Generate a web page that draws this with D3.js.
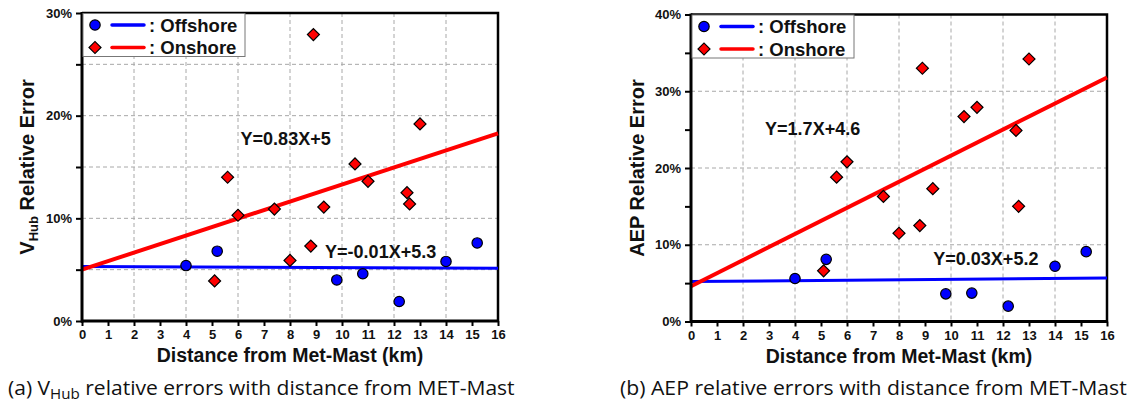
<!DOCTYPE html>
<html>
<head>
<meta charset="utf-8">
<script src="https://cdn.jsdelivr.net/npm/d3@7"></script>
<style>
  html, body { margin: 0; padding: 0; background: #fff; }
  svg { display: block; }
</style>
</head>
<body>
<svg id="chart" width="1138" height="403"></svg>
<script>
// ---------------- DATA ----------------
const offshoreDist = [4.0, 5.2, 9.8, 10.8, 12.2, 14.0, 15.2];
const onshoreDist  = [5.1, 5.6, 6.0, 7.4, 8.0, 8.8, 8.9, 9.3, 10.5, 11.0, 12.5, 12.6, 13.0];

const vhubOffshore = [5.4, 6.8, 4.0, 4.6, 1.9, 5.8, 7.6];
const vhubOnshore  = [3.9, 14.0, 10.3, 10.9, 5.9, 7.3, 27.9, 11.1, 15.3, 13.6, 12.5, 11.4, 19.2];

const aepOffshore  = [5.6, 8.1, 3.6, 3.7, 2.0, 7.2, 9.1];
const aepOnshore   = [6.6, 18.8, 20.8, 16.3, 11.5, 12.5, 33.0, 17.3, 26.7, 27.9, 24.9, 15.0, 34.2];

// regression fits [slope, intercept]
const vhubOffshoreFit = [-0.01, 5.3];
const vhubOnshoreFit  = [0.83, 5];
const aepOffshoreFit  = [0.03, 5.2];
const aepOnshoreFit   = [1.7, 4.6];

const xTickValues = [0,1,2,3,4,5,6,7,8,9,10,11,12,13,14,15,16];
const xGridValues = [2,4,6,8,10,12,14];
const vhubYTicks = [0,5,10,15,20,25,30];
const vhubYLabels = [0,10,20,30];
const vhubYGrid = [5,10,15,20,25];
const aepYTicks = [0,5,10,15,20,25,30,35,40];
const aepYLabels = [0,10,20,30,40];
const aepYGrid = [10,20,30];

const legendLabels = [": Offshore", ": Onshore"];
const xTitle = "Distance from Met-Mast (km)";

// ---------------- STYLE ----------------
const BLUE = "#0000ff", RED = "#ff0000";
const FONT = "'Liberation Sans', Arial, Helvetica, sans-serif";
const svg = d3.select("#chart");

function drawPanel(opt) {
  const g = svg.append("g");
  const x = d3.scaleLinear().domain([0, 16]).range([opt.left, opt.right]);
  const y = d3.scaleLinear().domain([0, opt.ymax]).range([opt.bottom, opt.top]);

  // grid
  g.append("g").selectAll("line").data(xGridValues).join("line")
    .attr("x1", d => x(d)).attr("x2", d => x(d))
    .attr("y1", opt.top).attr("y2", opt.bottom)
    .attr("stroke", "#a8a8a8").attr("stroke-width", 1).attr("stroke-dasharray", "4,3");
  g.append("g").selectAll("line").data(opt.yGrid).join("line")
    .attr("x1", opt.left).attr("x2", opt.right)
    .attr("y1", d => y(d)).attr("y2", d => y(d))
    .attr("stroke", "#a8a8a8").attr("stroke-width", 1).attr("stroke-dasharray", "4,3");

  // frame top / right
  g.append("path")
    .attr("d", `M${opt.left},${opt.top}H${opt.right}V${opt.bottom}`)
    .attr("fill", "none").attr("stroke", "#000").attr("stroke-width", 2.5);

  // fit lines
  const fitLine = (fit, color, w) => g.append("line")
    .attr("x1", x(0)).attr("y1", y(fit[1]))
    .attr("x2", x(16)).attr("y2", y(fit[0] * 16 + fit[1]))
    .attr("stroke", color).attr("stroke-width", w);
  fitLine(opt.offFit, BLUE, 3);
  fitLine(opt.onFit, RED, 4);

  // onshore diamonds (square rotated 45deg)
  const dia = d3.symbol().type(d3.symbolSquare).size(72);
  g.append("g").selectAll("path").data(onshoreDist.map((d, i) => [d, opt.onVals[i]])).join("path")
    .attr("d", dia)
    .attr("transform", d => `translate(${x(d[0])},${y(d[1])}) rotate(45)`)
    .attr("fill", RED).attr("stroke", "#000").attr("stroke-width", 1.2);
  // offshore circles
  g.append("g").selectAll("circle").data(offshoreDist.map((d, i) => [d, opt.offVals[i]])).join("circle")
    .attr("cx", d => x(d[0])).attr("cy", d => y(d[1])).attr("r", 5.2)
    .attr("fill", BLUE).attr("stroke", "#000").attr("stroke-width", 1.2);

  // axes
  const xAxis = d3.axisBottom(x).tickValues(xTickValues).tickSize(5).tickPadding(4).tickFormat(d3.format("d"));
  const xg = g.append("g").attr("transform", `translate(0,${opt.bottom})`).call(xAxis);
  xg.select(".domain").attr("stroke-width", 3).attr("d", `M${opt.left - 1},0H${opt.right + 1}`);
  xg.selectAll(".tick line").attr("stroke-width", 2);
  xg.selectAll("text").attr("font-family", FONT).attr("font-weight", "bold").attr("font-size", 13).attr("fill", "#111");

  const yAxis = d3.axisLeft(y).tickValues(opt.yTicks).tickSize(6).tickPadding(4)
    .tickFormat(d => opt.yLabels.includes(d) ? d + "%" : "");
  const yg = g.append("g").attr("transform", `translate(${opt.left},0)`).call(yAxis);
  yg.select(".domain").attr("stroke-width", 3).attr("d", `M0,${opt.top - 1}V${opt.bottom + 1.5}`);
  yg.selectAll(".tick line").attr("stroke-width", 2);
  yg.selectAll("text").attr("font-family", FONT).attr("font-weight", "bold").attr("font-size", 13).attr("fill", "#111");

  // axis titles
  g.append("text").attr("x", (opt.left + opt.right) / 2).attr("y", opt.bottom + 41)
    .attr("text-anchor", "middle").attr("font-family", FONT).attr("font-weight", "bold")
    .attr("font-size", 19.5).attr("fill", "#111").text(xTitle);

  const yt = g.append("text")
    .attr("transform", `translate(${opt.ytitleX},${(opt.top + opt.bottom) / 2}) rotate(-90)`)
    .attr("text-anchor", "middle").attr("font-family", FONT).attr("font-weight", "bold")
    .attr("font-size", 20).attr("fill", "#111");
  opt.ytitle.forEach(part => {
    const t = yt.append("tspan").text(part.t);
    if (part.sub) t.attr("font-size", 13).attr("dy", 4);
    else if (part.after) t.attr("dy", -4);
  });

  // legend
  const lg = g.append("g");
  lg.append("rect").attr("x", opt.left + 1).attr("y", opt.top + 0.5)
    .attr("width", 162).attr("height", 43)
    .attr("fill", "#fff").attr("stroke", "#777").attr("stroke-width", 1);
  const rows = [opt.top + 12, opt.top + 34.5];
  lg.append("circle").attr("cx", opt.left + 13).attr("cy", rows[0]).attr("r", 5.2)
    .attr("fill", BLUE).attr("stroke", "#000").attr("stroke-width", 1.2);
  lg.append("path").attr("d", dia)
    .attr("transform", `translate(${opt.left + 13},${rows[1]}) rotate(45)`)
    .attr("fill", RED).attr("stroke", "#000").attr("stroke-width", 1.2);
  lg.append("line").attr("x1", opt.left + 30).attr("x2", opt.left + 62)
    .attr("y1", rows[0]).attr("y2", rows[0]).attr("stroke", BLUE).attr("stroke-width", 3.5).attr("stroke-linecap", "round");
  lg.append("line").attr("x1", opt.left + 30).attr("x2", opt.left + 62)
    .attr("y1", rows[1]).attr("y2", rows[1]).attr("stroke", RED).attr("stroke-width", 3.5).attr("stroke-linecap", "round");
  legendLabels.forEach((l, i) => {
    lg.append("text").attr("x", opt.left + 67).attr("y", rows[i] + 6.5)
      .attr("font-family", FONT).attr("font-weight", "bold").attr("font-size", 18.5).attr("fill", "#111").text(l);
  });

  // equations
  opt.eqs.forEach(e => {
    g.append("text").attr("x", x(e.x)).attr("y", y(e.y))
      .attr("font-family", FONT).attr("font-weight", "bold").attr("font-size", 18).attr("fill", "#111").text(e.t);
  });

  // caption
  const cap = svg.append("text").attr("x", 0).attr("y", 0)
    .attr("font-family", "'Open Sans', 'Noto Sans', sans-serif").attr("font-size", 19.5).attr("fill", "#111");
  opt.caption.forEach(part => {
    const t = cap.append("tspan").text(part.t);
    if (part.sub) t.attr("font-size", 14).attr("dy", 4);
    else if (part.after) t.attr("dy", -4);
  });
  const bb = cap.node().getBBox();
  const sx = opt.capW / bb.width;
  cap.attr("transform", `translate(${opt.capX - bb.x * sx},${opt.capY}) scale(${sx},1)`);
}

drawPanel({
  left: 82, right: 498, top: 13, bottom: 321, ymax: 30,
  yTicks: vhubYTicks, yLabels: vhubYLabels, yGrid: vhubYGrid,
  offVals: vhubOffshore, onVals: vhubOnshore,
  offFit: vhubOffshoreFit, onFit: vhubOnshoreFit,
  ytitleX: 34,
  ytitle: [{t: "V"}, {t: "Hub", sub: true}, {t: " Relative Error", after: true}],
  eqs: [{x: 6.1, y: 17.1, t: "Y=0.83X+5"}, {x: 9.35, y: 6.1, t: "Y=-0.01X+5.3"}],
  caption: [{t: "(a) V"}, {t: "Hub", sub: true}, {t: " relative errors with distance from MET-Mast", after: true}],
  capX: 8, capY: 395, capW: 507
});

drawPanel({
  left: 691, right: 1107, top: 14.5, bottom: 321.5, ymax: 40,
  yTicks: aepYTicks, yLabels: aepYLabels, yGrid: aepYGrid,
  offVals: aepOffshore, onVals: aepOnshore,
  offFit: aepOffshoreFit, onFit: aepOnshoreFit,
  ytitleX: 644,
  ytitle: [{t: "AEP Relative Error"}],
  eqs: [{x: 2.85, y: 24.3, t: "Y=1.7X+4.6"}, {x: 9.32, y: 7.4, t: "Y=0.03X+5.2"}],
  caption: [{t: "(b) AEP relative errors with distance from MET-Mast"}],
  capX: 620, capY: 395, capW: 507
});
</script>
</body>
</html>
